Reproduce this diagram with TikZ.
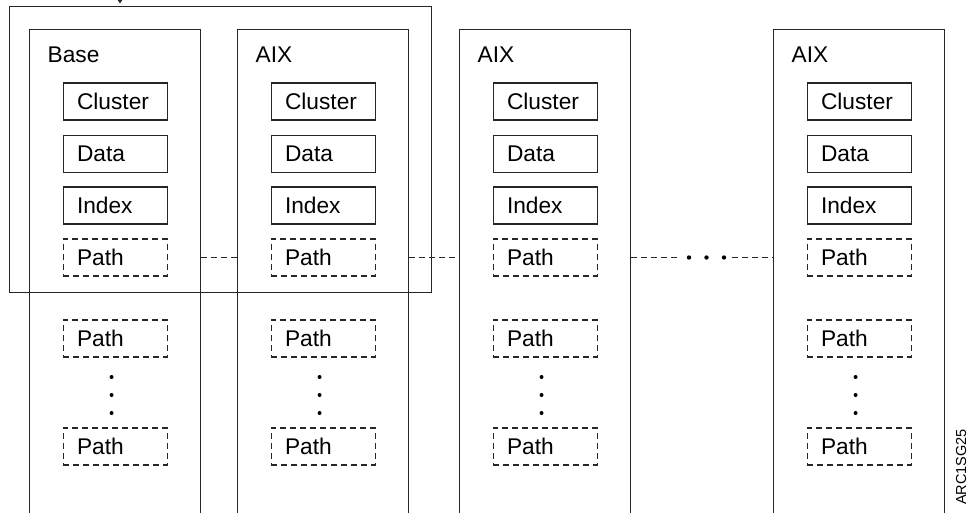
\documentclass[tikz,border=0pt]{standalone}
\usepackage{fontspec}
\setmainfont{Liberation Sans}
\usetikzlibrary{arrows.meta}
\begin{document}
\begin{tikzpicture}[x=1pt,y=-1pt,
  line/.style={draw=black!85, line width=1.1pt},
  colbox/.style={line, minimum width=171pt, minimum height=500pt, anchor=north west, inner sep=0pt},
  itembox/.style={line, minimum height=37pt, text width=76pt, inner xsep=14pt, inner ysep=0pt, align=left, font=\fontsize{22.7}{26}\selectfont, anchor=west},
  pathbox/.style={itembox, dash pattern=on 6pt off 4pt},
  collabel/.style={anchor=base west, inner sep=0pt, font=\fontsize{22.7}{26}\selectfont},
  link/.style={line, dash pattern=on 6pt off 4pt},
  dotmark/.style={fill=black}
]
\useasboundingbox (0,0) rectangle (968,513);

% figure code
\node[rotate=90, inner sep=0pt, font=\fontsize{14.5}{16}\selectfont] (figcode) at (961,467) {ARC1SG25};

% outer grouping box
\node[line, minimum width=422pt, minimum height=286pt, anchor=north west, inner sep=0pt] (group) at (9,6) {};

\begin{scope}
\clip (0,0) rectangle (968,513);
\foreach \cx/\i in {29/1, 237/2, 459/3, 773/4} {
  \node[colbox] (c\i) at (\cx,29) {};
}
\end{scope}

\foreach \cx/\lab/\i in {29/Base/1, 237/AIX/2, 459/AIX/3, 773/AIX/4} {
  \node[collabel] (lab\i) at (\cx+18.5,63) {\lab};
  \node[itembox] (cl\i) at (\cx+33.5,101.5) {Cluster};
  \node[itembox] (d\i)  at (\cx+33.5,154) {Data};
  \node[itembox] (ix\i) at (\cx+33.5,205.5) {Index};
  \node[pathbox] (pa\i) at (\cx+33.5,257.5) {Path};
  \node[pathbox] (pb\i) at (\cx+33.5,338.5) {Path};
  \node[pathbox] (pc\i) at (\cx+33.5,446.5) {Path};
  \fill[dotmark] ([xshift=-3.5pt,yshift=-38.5pt]pb\i.center) circle (2pt);
  \fill[dotmark] ([xshift=-3.5pt,yshift=-56.5pt]pb\i.center) circle (2pt);
  \fill[dotmark] ([xshift=-3.5pt,yshift=-74.5pt]pb\i.center) circle (2pt);
}

% connectors between columns
\draw[link] (c1.east |- pa1.center) -- (c2.west |- pa2.center);
\draw[link] (c2.east |- pa2.center) -- (c3.west |- pa3.center);
\coordinate (gapA) at (680,257.5);
\coordinate (gapB) at (732,257.5);
\draw[link] (c3.east |- pa3.center) -- (gapA);
\draw[link] (gapB) -- (c4.west |- pa4.center);
\fill[dotmark] (689,257.5) circle (2.2pt);
\fill[dotmark] (706.5,257.5) circle (2.2pt);
\fill[dotmark] (724,257.5) circle (2.2pt);

% small arrow entering at top
\begin{scope}
\clip (0,0) rectangle (968,513);
\coordinate (arrtop) at (120,-10);
\coordinate (arrtip) at (120,3.5);
\draw[line, -{Triangle[length=4pt,width=5pt]}] (arrtop) -- (arrtip);
\end{scope}
\end{tikzpicture}
\end{document}
